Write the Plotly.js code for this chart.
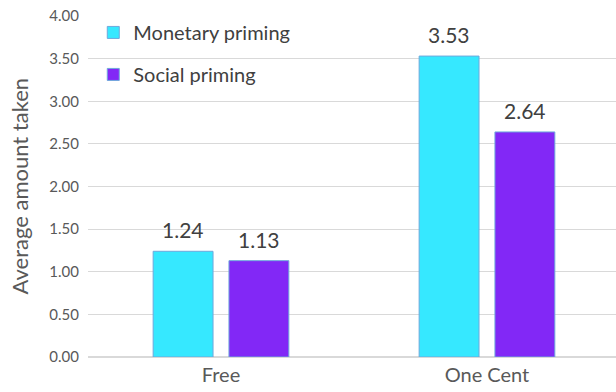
<!DOCTYPE html>
<html><head><meta charset="utf-8">
<script src="https://cdn.plot.ly/plotly-3.0.1.min.js"></script>
<style>html,body{margin:0;padding:0;background:#fff;}#chart{width:616px;height:392px;}</style>
</head><body><div id="chart"></div>
<script>
const categories = ["Free", "One Cent"];
const seriesNames = ["Monetary priming", "Social priming"];
const monetary = [1.24, 3.53];
const social = [1.13, 2.64];
const yTickVals = [0, 0.5, 1, 1.5, 2, 2.5, 3, 3.5, 4];
const yTickText = ["0.00","0.50","1.00","1.50","2.00","2.50","3.00","3.50","4.00"];
const yTitle = "Average amount taken";

const colors = ["#36E8FF", "#8228F6"];
const seriesVals = [monetary, social];
const traces = seriesVals.map((v, i) => ({
  type: "bar", name: seriesNames[i], x: categories, y: v,
  legendgroup: "g" + i,
  marker: {color: colors[i], line: {color: "#6FA8DC", width: 1}},
  hoverinfo: "skip"
}));
const annotations = [];
seriesVals.forEach((v, i) => {
  v.forEach((val, j) => {
    annotations.push({x: categories[j], y: val, xref: "x", yref: "y",
      text: val.toFixed(2), showarrow: false, yanchor: "bottom",
      xshift: i === 0 ? -38 : 38, yshift: 7,
      font: {family: "Lato, sans-serif", size: 21, color: "#404040"}});
  });
});
annotations.push({xref: "paper", yref: "paper", x: 0, y: 0.5, xanchor: "center", yanchor: "middle",
  xshift: -69, text: yTitle, textangle: -90, showarrow: false,
  font: {family: "Lato, sans-serif", size: 22, color: "#595959"}});
const layout = {
  width: 616, height: 392,
  margin: {l: 88, r: 0, t: 16, b: 35},
  paper_bgcolor: "#fff", plot_bgcolor: "#fff",
  barmode: "group", bargap: 0.43, bargroupgap: 0.21,
  font: {family: "Lato, sans-serif", color: "#595959"},
  xaxis: {range: [-0.5, 1.485], showgrid: false, zeroline: false,
    showline: false, ticks: "", ticklabelstandoff: 4,
    tickfont: {size: 20, color: "#595959"}, fixedrange: true},
  yaxis: {range: [0, 4], tickvals: yTickVals, ticktext: yTickText,
    showgrid: true, gridcolor: "#D9D9D9", gridwidth: 1, zeroline: true,
    zerolinecolor: "#D9D9D9", zerolinewidth: 1.5, showline: false, ticks: "",
    ticklabelstandoff: 8,
    tickfont: {size: 15, color: "#595959"}},
  legend: {x: 0.01, y: 1.009, xanchor: "left", yanchor: "top", bgcolor: "rgba(0,0,0,0)",
    font: {size: 20, color: "#404040"}, tracegroupgap: 13, itemwidth: 30},
  showlegend: true,
  annotations: annotations
};
Plotly.newPlot("chart", traces, layout, {displayModeBar: false, staticPlot: true});
</script></body></html>
